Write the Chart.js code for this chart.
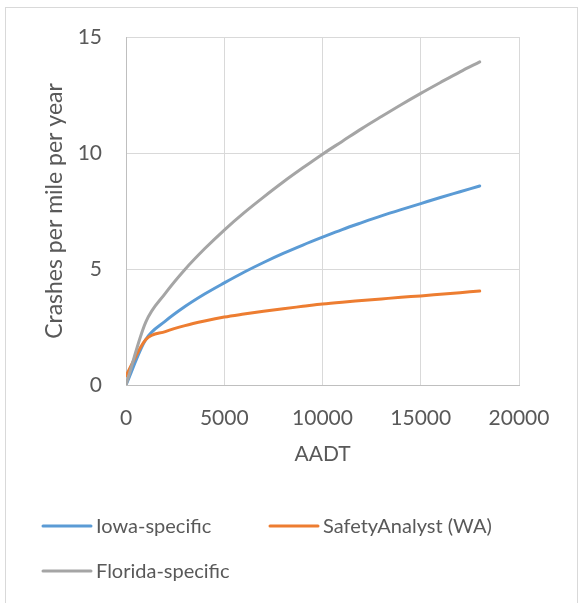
<!DOCTYPE html>
<html>
<head>
<meta charset="utf-8">
<script src="https://cdn.jsdelivr.net/npm/chart.js@4.4.0/dist/chart.umd.min.js"></script>
<style>
  html, body { margin: 0; padding: 0; background: #fff; }
  #wrap { width: 579px; height: 603px; position: relative; }
</style>
</head>
<body>
<div id="wrap"><canvas id="myChart" width="579" height="603"></canvas></div>
<script>
// AADT sample points (x axis)
const aadt = [0, 1000, 2000, 3000, 4000, 5000, 6000, 7000, 8000, 9000,
              10000, 11000, 12000, 13000, 14000, 15000, 16000, 17000, 18000];

// crashes per mile per year
const iowa = [0, 1.95, 2.75, 3.38, 3.92, 4.4, 4.86, 5.28, 5.67, 6.03,
              6.37, 6.7, 7.0, 7.29, 7.56, 7.82, 8.08, 8.33, 8.58];
const safetyAnalyst = [0.4, 1.95, 2.3, 2.56, 2.76, 2.93, 3.06, 3.18, 3.29, 3.39,
                       3.49, 3.57, 3.64, 3.71, 3.78, 3.84, 3.91, 3.98, 4.05];
const florida = [0, 2.7, 3.95, 4.98, 5.87, 6.68, 7.42, 8.1, 8.75, 9.36,
                 9.95, 10.5, 11.05, 11.57, 12.08, 12.57, 13.04, 13.5, 13.93];

const seriesNames = ['Iowa-specific', 'SafetyAnalyst (WA)', 'Florida-specific'];
const xTicks = [0, 5000, 10000, 15000, 20000];
const yTicks = [0, 5, 10, 15];

const textColor = '#595959';
const fontFamily = 'Lato, "Open Sans", sans-serif';

function toPoints(ys) {
    return aadt.map((x, i) => ({ x: x, y: ys[i] }));
}

// outer frame of the chart
const framePlugin = {
    id: 'frame',
    beforeDraw(chart) {
        const ctx = chart.ctx;
        ctx.save();
        ctx.strokeStyle = '#d9d9d9';
        ctx.lineWidth = 1;
        ctx.strokeRect(5.5, 7.5, 572, 620);
        ctx.restore();
    }
};

// two column legend under the plot
const legendPlugin = {
    id: 'gridLegend',
    afterDraw(chart) {
        const ctx = chart.ctx;
        const cols = [43, 270];
        const rows = [526, 571];
        ctx.save();
        ctx.font = '20px ' + fontFamily;
        ctx.textBaseline = 'middle';
        ctx.fillStyle = textColor;
        chart.data.datasets.forEach((ds, i) => {
            const x = cols[i % 2];
            const y = rows[Math.floor(i / 2)];
            ctx.strokeStyle = ds.borderColor;
            ctx.lineWidth = 3;
            ctx.lineCap = 'round';
            ctx.beginPath();
            ctx.moveTo(x, y);
            ctx.lineTo(x + 48, y);
            ctx.stroke();
            ctx.fillText(ds.label, x + 53, y + 1);
        });
        ctx.restore();
    }
};

const ctx = document.getElementById('myChart').getContext('2d');
new Chart(ctx, {
    type: 'line',
    data: {
        datasets: [{
            label: seriesNames[0],
            data: toPoints(iowa),
            borderColor: '#5b9bd5',
            order: 3
        },
        {
            label: seriesNames[1],
            data: toPoints(safetyAnalyst),
            borderColor: '#ed7d31',
            order: 2
        },
        {
            label: seriesNames[2],
            data: toPoints(florida),
            borderColor: '#a5a5a5',
            order: 1
        }]
    },
    options: {
        responsive: false,
        animation: false,
        devicePixelRatio: 1,
        elements: {
            point: { radius: 0 },
            line: { borderWidth: 3, cubicInterpolationMode: 'monotone', borderCapStyle: 'round', fill: false }
        },
        layout: { padding: { left: 0, top: 37, right: 60, bottom: 128 } },
        plugins: {
            legend: { display: false },
            tooltip: { enabled: false }
        },
        scales: {
            x: {
                type: 'linear',
                min: 0,
                max: 20000,
                afterFit: s => { s.height = 90; },
                afterBuildTicks: s => { s.ticks = xTicks.map(v => ({ value: v })); },
                grid: { color: '#d9d9d9', drawTicks: false },
                border: { color: '#bfbfbf', width: 1 },
                ticks: {
                    color: textColor, padding: 21, maxRotation: 0,
                    font: { family: fontFamily, size: 21 },
                    callback: v => String(v)
                },
                title: { display: true, text: 'AADT', color: textColor, padding: { top: 0, bottom: 8 }, font: { family: fontFamily, size: 21 } }
            },
            y: {
                min: 0,
                max: 15,
                afterFit: s => { s.width = 126; },
                afterBuildTicks: s => { s.ticks = yTicks.map(v => ({ value: v })); },
                grid: { color: '#d9d9d9', drawTicks: false },
                border: { color: '#bfbfbf', width: 1 },
                ticks: {
                    color: textColor, padding: 24,
                    font: { family: fontFamily, size: 21 },
                    callback: v => String(v)
                },
                title: { display: true, text: 'Crashes per mile per year', color: textColor, padding: { top: 41, bottom: 0 }, font: { family: fontFamily, size: 23 } }
            }
        }
    },
    plugins: [framePlugin, legendPlugin]
});
</script>
</body>
</html>
